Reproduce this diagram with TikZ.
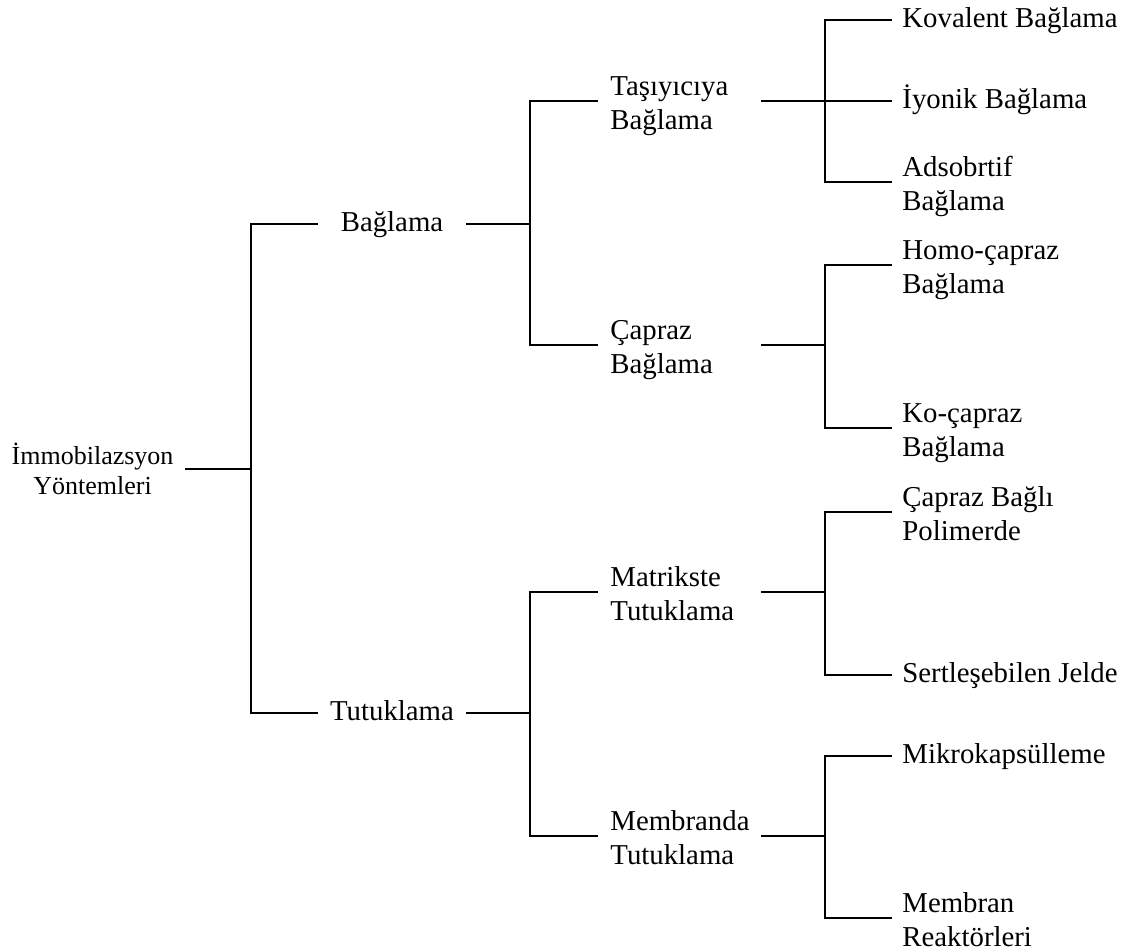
\documentclass[tikz,border=0pt]{standalone}
\usepackage{fontspec}
\setmainfont{Liberation Serif}
\begin{document}
\begin{tikzpicture}[x=0.5pt,y=-0.5pt,
  conn/.style={line width=1pt},
  big/.style={font=\fontsize{14.4}{17}\selectfont},
  one/.style={big, inner ysep=0pt, text height=10pt, text depth=3pt, anchor=west},
  two/.style={big, inner ysep=0pt, text height=10pt, text depth=16pt, anchor=west, align=flush left},
  lvlone/.style={one, anchor=center, minimum width=74pt, inner xsep=0pt},
  lvltwo/.style={two, text width=69pt, inner xsep=6pt},
  leafone/.style={one, inner xsep=5pt},
  leaftwo/.style={two, text width=110pt, inner xsep=5pt},
  rootbox/.style={font=\fontsize{13}{15}\selectfont, anchor=east, align=flush center,
    text width=82pt, inner xsep=5pt, inner ysep=0pt, text height=9pt, text depth=14pt}
]
\useasboundingbox (0,0) rectangle (1138,950);

% root
\node[rootbox] (root) at (185,469) {İmmobilazsyon\\Yöntemleri};
\coordinate (j0) at (251,469);

% level 1
\node[lvlone] (bag) at (392,224) {Bağlama};
\node[lvlone] (tut) at (392,713) {Tutuklama};
\coordinate (j1a) at (530,224);
\coordinate (j1b) at (530,713);

% level 2
\node[lvltwo] (tas) at (598,101) {Taşıyıcıya\\Bağlama};
\node[lvltwo] (cap) at (598,345) {Çapraz\\Bağlama};
\node[lvltwo] (mat) at (598,592) {Matrikste\\Tutuklama};
\node[lvltwo] (mem) at (598,836) {Membranda\\Tutuklama};
\coordinate (j2a) at (825,101);
\coordinate (j2b) at (825,345);
\coordinate (j2c) at (825,592);
\coordinate (j2d) at (825,836);

% level 3
\node[leafone] (kov) at (892,20) {Kovalent Bağlama};
\node[leafone] (iyo) at (892,101) {İyonik Bağlama};
\node[leaftwo] (ads) at (892,182) {Adsobrtif\\Bağlama};
\node[leaftwo] (hom) at (892,265) {Homo-çapraz\\Bağlama};
\node[leaftwo] (koc) at (892,428) {Ko-çapraz\\Bağlama};
\node[leaftwo] (cbp) at (892,512) {Çapraz Bağlı\\Polimerde};
\node[leafone] (ser) at (892,675) {Sertleşebilen Jelde};
\node[leafone] (mik) at (892,756) {Mikrokapsülleme};
\node[leaftwo] (mrk) at (892,918) {Membran\\Reaktörleri};

% connectors
\draw[conn] (root.east) -- (j0);
\draw[conn] (bag.west) -| (j0) |- (tut.west);

\draw[conn] (bag.east) -- (j1a);
\draw[conn] (tas.west) -| (j1a) |- (cap.west);
\draw[conn] (tut.east) -- (j1b);
\draw[conn] (mat.west) -| (j1b) |- (mem.west);

\draw[conn] (tas.east) -- (j2a);
\draw[conn] (kov.west) -| (j2a) |- (ads.west);
\draw[conn] (j2a) -- (iyo.west);
\draw[conn] (cap.east) -- (j2b);
\draw[conn] (hom.west) -| (j2b) |- (koc.west);
\draw[conn] (mat.east) -- (j2c);
\draw[conn] (cbp.west) -| (j2c) |- (ser.west);
\draw[conn] (mem.east) -- (j2d);
\draw[conn] (mik.west) -| (j2d) |- (mrk.west);
\end{tikzpicture}
\end{document}
